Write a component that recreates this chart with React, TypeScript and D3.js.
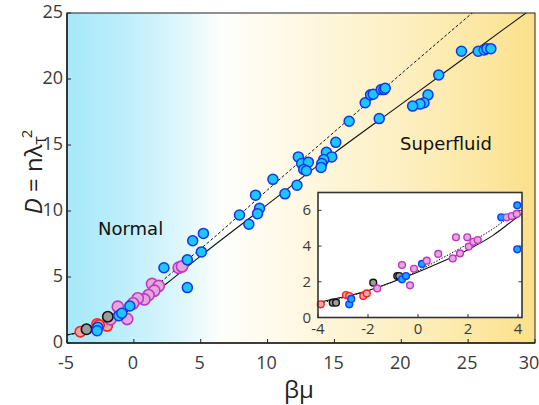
import React from 'react';
import * as d3 from 'd3';

type Pt = [number, number];

// main panel axes
const xTicks = [-5, 0, 5, 10, 15, 20, 25, 30];
const yTicks = [0, 5, 10, 15, 20, 25];

// main panel data (beta*mu, D)
const blueMain: Pt[] = [
  [24.5, 22.1], [25.75, 22.1], [26.2, 22.2], [26.4, 22.3], [26.7, 22.3],
  [22.8, 20.3], [22.0, 18.8], [21.7, 18.2], [21.4, 18.1], [20.85, 17.95],
  [18.35, 17.0], [16.1, 16.8], [17.3, 18.2], [17.7, 18.8], [17.9, 18.85],
  [18.5, 19.2], [18.7, 19.2], [18.8, 19.3], [15.1, 15.2], [14.4, 14.45],
  [14.8, 14.1], [14.2, 13.9], [14.05, 13.6], [14.0, 13.3], [12.3, 14.1],
  [12.55, 13.6], [13.05, 13.7], [12.7, 13.15], [12.9, 13.05], [12.2, 11.95],
  [11.3, 11.3], [10.4, 12.4], [9.1, 11.2], [9.4, 10.2], [9.25, 9.8],
  [7.9, 9.7], [8.6, 9.0], [5.2, 8.3], [4.4, 7.75], [5.05, 6.9],
  [4.0, 6.3], [2.25, 5.7], [4.0, 4.2], [-0.3, 2.8], [-1.13, 2.07],
  [-0.9, 2.25], [-2.7, 1.2], [-2.75, 0.93],
];
const pinkMain: Pt[] = [
  [3.35, 5.7], [3.6, 5.8], [1.36, 4.47], [1.86, 4.32], [1.53, 3.96],
  [1.1, 3.63], [0.79, 3.3], [0.29, 3.38], [-0.06, 3.0], [-1.2, 2.75],
  [-1.75, 1.8], [-0.5, 1.82],
];
const blackMain: Pt[] = [[-1.95, 1.99], [-3.54, 1.04]];
const redMain: Pt[] = [[-4.0, 0.86], [-2.75, 1.44], [-2.0, 1.29], [-2.6, 1.36]];

const solidMain: Pt[] = [
  [-5, 0.6], [-4, 0.85], [-3, 1.15], [-2, 1.55], [-1, 2.1], [0, 2.75],
  [2.5, 4.55], [5, 6.6], [10, 10.5], [15, 14.4], [20, 18.1], [25, 21.8], [30, 25.5],
];
const dashedMain: Pt[] = [
  [-5, 0.6], [-3, 1.1], [-1, 2.0], [0, 2.8], [2, 4.6], [4, 6.3],
  [6, 8.0], [10, 11.6], [15, 16.0], [20, 20.4], [26, 25.6],
];

// inset
const insetXTicks = [-4, -2, 0, 2, 4];
const insetYTicks = [0, 2, 4, 6];

const redInset: Pt[] = [[-3.89, 0.74], [-2.88, 1.26], [-2.75, 1.2], [-2.19, 1.2], [-2.05, 1.35]];
const blackInset: Pt[] = [[-3.41, 0.83], [-3.28, 0.83], [-1.79, 1.95], [-0.83, 2.32], [-0.75, 2.32]];
const blueInset: Pt[] = [
  [-2.75, 0.74], [-2.67, 1.04], [-0.64, 2.14], [-0.48, 2.32], [0.16, 3.0],
  [3.33, 5.61], [3.97, 6.28], [3.97, 3.82],
];
const pinkInset: Pt[] = [
  [-1.63, 1.63], [-0.64, 2.94], [-0.32, 1.8], [-0.16, 2.73], [0.35, 3.18],
  [0.81, 3.56], [1.39, 3.31], [1.52, 4.49], [1.68, 3.59], [1.97, 4.49],
  [2.03, 3.97], [2.21, 4.24], [2.39, 4.34], [3.55, 5.61], [3.75, 5.68], [3.95, 5.8],
];
const solidInset: Pt[] = [
  [-4, 0.85], [-3, 1.15], [-2, 1.5], [-1, 2.0], [0, 2.55], [1, 3.15],
  [2, 3.8], [3, 4.6], [4, 5.65], [4.2, 5.85],
];
const dottedInset: Pt[] = [
  [-4, 0.78], [-3, 1.1], [-2, 1.5], [-1, 2.0], [0, 2.62], [1, 3.35],
  [2, 4.12], [3, 4.97], [4, 6.0],
];

const C = {
  blue: ['#1cc6ff', '#1436e6'],
  blueIn: ['#1aa6ff', '#0a3cff'],
  pink: ['#e2a8da', '#c236c4'],
  black: ['#9c9c9c', '#111111'],
  red: ['#f7a4a4', '#ff2020'],
};

const App = () => {
  const W = 539, H = 405;
  const x = d3.scaleLinear().domain([-5, 30]).range([67, 535]);
  const y = d3.scaleLinear().domain([0, 25]).range([343, 13]);
  const ix = d3.scaleLinear().domain([-4, 4.16]).range([318, 522]);
  const iy = d3.scaleLinear().domain([0, 7]).range([317.5, 192.5]);

  const mainLine = d3.line<Pt>().x(d => x(d[0])).y(d => y(d[1])).curve(d3.curveMonotoneX);
  const insetLine = d3.line<Pt>().x(d => ix(d[0])).y(d => iy(d[1])).curve(d3.curveMonotoneX);

  const [x0, x1] = x.range();
  const [y0, y1] = y.range();
  const tickFont = { fontFamily: '"Open Sans", sans-serif', fill: '#3a3a3a' };

  const dots = (pts: Pt[], sx: any, sy: any, col: string[], r: number, sw: number) =>
    pts.map((d, i) => (
      <circle key={i} cx={sx(d[0])} cy={sy(d[1])} r={r} fill={col[0]} stroke={col[1]} strokeWidth={sw} />
    ));

  return (
    <svg width={W} height={H} style={{ position: 'absolute', left: 0, top: 0, background: '#fff' }}>
      <defs>
        <linearGradient id="bg" gradientUnits="userSpaceOnUse" x1={x0} x2={x1} y1={0} y2={0}>
          <stop offset="0" stopColor="#a6e8f9" />
          <stop offset="0.12" stopColor="#bdeefa" />
          <stop offset="0.25" stopColor="#e0f7fc" />
          <stop offset="0.33" stopColor="#fdfefc" />
          <stop offset="0.45" stopColor="#fffaea" />
          <stop offset="0.7" stopColor="#fdf0c4" />
          <stop offset="0.9" stopColor="#fce6a0" />
          <stop offset="1" stopColor="#fbe08a" />
        </linearGradient>
        <clipPath id="mainClip">
          <rect x={x0} y={y1} width={x1 - x0} height={y0 - y1} />
        </clipPath>
        <clipPath id="insetClip">
          <rect x={318} y={192.5} width={204} height={125} />
        </clipPath>
      </defs>

      <rect x={x0} y={y1} width={x1 - x0} height={y0 - y1} fill="url(#bg)" />

      {/* main lines */}
      <g clipPath="url(#mainClip)" fill="none" stroke="#111">
        <path d={mainLine(dashedMain) || ''} strokeWidth={1} strokeDasharray="3,2" />
        <path d={mainLine(solidMain) || ''} strokeWidth={1.1} />
      </g>

      {/* main points */}
      <g>
        {dots(redMain, x, y, C.red, 5.2, 1.6)}
        {dots(pinkMain, x, y, C.pink, 5.6, 1.6)}
        {dots(blackMain, x, y, C.black, 5.2, 1.6)}
        {dots(blueMain, x, y, C.blue, 5, 1.5)}
      </g>

      {/* main frame + ticks */}
      <rect x={x0} y={y1} width={x1 - x0} height={y0 - y1} fill="none" stroke="#222" strokeWidth={1} />
      <line x1={x0} x2={x1} y1={y0} y2={y0} stroke="#222" strokeWidth={1.6} />
      <line x1={x0} x2={x0} y1={y0} y2={y1} stroke="#222" strokeWidth={1.6} />
      {xTicks.map((t, i) => (
        <g key={'xt' + t}>
          <line x1={x(t)} x2={x(t)} y1={y0} y2={y0 - 4} stroke="#222" />
          <text x={i === xTicks.length - 1 ? 529 : x(t) - 1} y={369} textAnchor="middle" fontSize={18} {...tickFont}>{t}</text>
        </g>
      ))}
      {yTicks.map(t => (
        <g key={'yt' + t}>
          <line x1={x0} x2={x0 + 4} y1={y(t)} y2={y(t)} stroke="#222" />
          <text x={63} y={y(t) + 5} textAnchor="end" fontSize={18} {...tickFont}>{t}</text>
        </g>
      ))}

      {/* axis labels */}
      <text x={299} y={398} textAnchor="middle" fontSize={24} fontFamily='"Open Sans", sans-serif' fill="#222">βμ</text>
      <text transform="translate(42,172) rotate(-90)" textAnchor="middle" fontSize={24}
        fontFamily='"Open Sans", sans-serif' fill="#222">
        <tspan fontStyle="italic">D</tspan> = nλ<tspan fontSize={15} dy={4}>T</tspan>
        <tspan fontSize={15} dy={-14} dx={-2}>2</tspan>
      </text>

      {/* region labels */}
      <text x={98} y={235} fontSize={18} fontFamily='"DejaVu Sans", sans-serif' fill="#111">Normal</text>
      <text x={400} y={150} fontSize={18} fontFamily='"DejaVu Sans", sans-serif' fill="#111">Superfluid</text>

      {/* inset */}
      <rect x={318} y={192.5} width={204} height={125} fill="#fff" />
      <g clipPath="url(#insetClip)" fill="none" stroke="#111">
        <path d={insetLine(dottedInset) || ''} strokeWidth={1} strokeDasharray="1.5,1.5" />
        <path d={insetLine(solidInset) || ''} strokeWidth={1.1} />
      </g>
      <g>
        {dots(redInset, ix, iy, C.red, 3.4, 1.4)}
        {dots(blackInset, ix, iy, C.black, 3.4, 1.4)}
        {dots(blueInset, ix, iy, C.blueIn, 3.4, 1.4)}
        {dots(pinkInset, ix, iy, C.pink, 3.4, 1.4)}
      </g>
      <rect x={318} y={192.5} width={204} height={125} fill="none" stroke="#333" strokeWidth={1.6} />
      {insetXTicks.map(t => (
        <g key={'ixt' + t}>
          <line x1={ix(t)} x2={ix(t)} y1={317.5} y2={314} stroke="#333" />
          <text x={ix(t)} y={334} textAnchor="middle" fontSize={15} {...tickFont}>{t}</text>
        </g>
      ))}
      {insetYTicks.map(t => (
        <g key={'iyt' + t}>
          <line x1={318} x2={321.5} y1={iy(t)} y2={iy(t)} stroke="#333" />
          <line x1={522} x2={518.5} y1={iy(t)} y2={iy(t)} stroke="#333" />
          <text x={311} y={iy(t) + 5} textAnchor="end" fontSize={15} {...tickFont}>{t}</text>
        </g>
      ))}
    </svg>
  );
};

export default App;
